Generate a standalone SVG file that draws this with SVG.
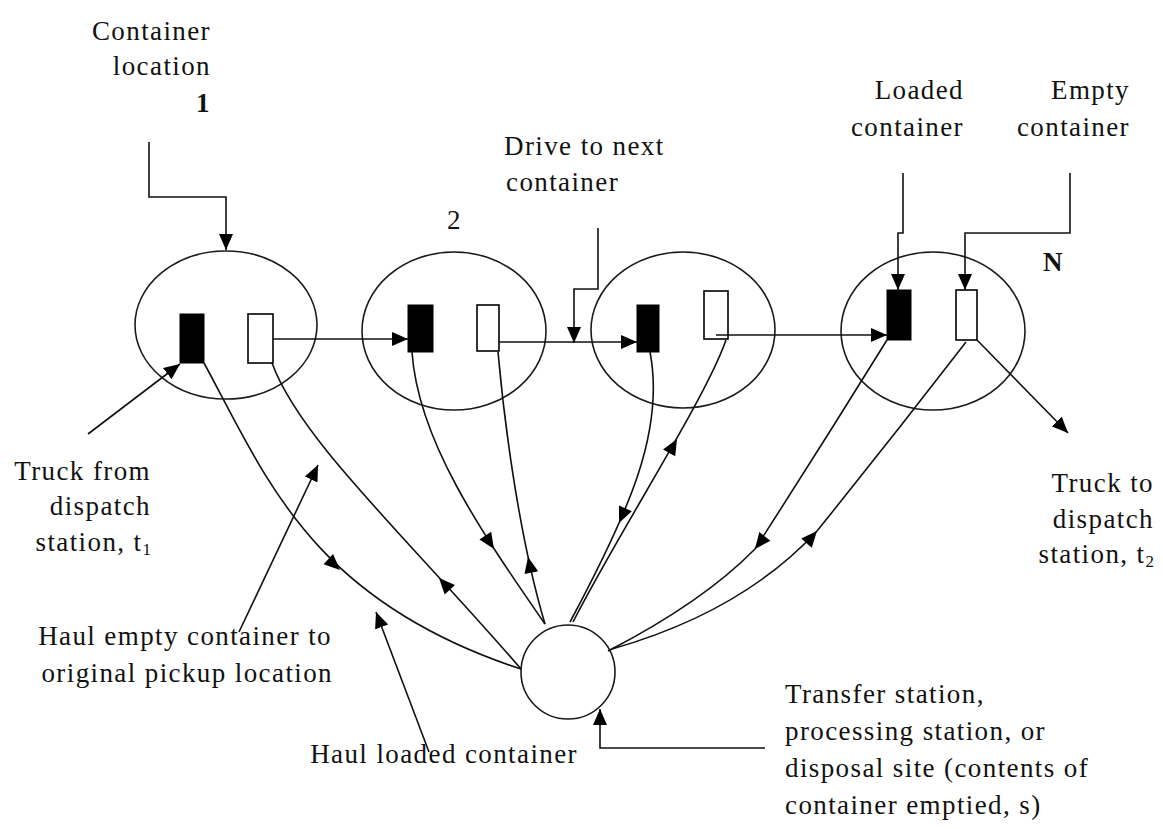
<svg xmlns="http://www.w3.org/2000/svg" xmlns:xlink="http://www.w3.org/1999/xlink" width="1163" height="829" viewBox="0 0 1163 829">
<style>
.node{fill:none;stroke:#1a1a1a;stroke-width:1.6}
.full{fill:#000;stroke:#000;stroke-width:1}
.empty{fill:#fff;stroke:#000;stroke-width:1.6}
.c{fill:none;stroke:#111;stroke-width:1.6}
.a{marker-end:url(#arr)}
.ah{fill:#000}
text{font-family:"Liberation Serif","Times New Roman",serif;font-size:27px;letter-spacing:1.4px;fill:#111}
.r{text-anchor:end}
.b{font-weight:bold}
.sub{font-size:17px;letter-spacing:0}
</style>
<defs>
<marker id="arr" markerUnits="userSpaceOnUse" markerWidth="16" markerHeight="14" viewBox="0 0 16 14" refX="16" refY="7" orient="auto">
<path d="M0,0 L16,7 L0,14 Z" fill="#000"/>
</marker>
<path id="ahead" d="M0,0 L-16,-7 L-16,7 Z"/>
</defs>
<rect width="1163" height="829" fill="#fff"/>

<g id="loc1">
<ellipse class="node" cx="226" cy="325" rx="91" ry="74"/>
<rect class="full" x="180" y="314" width="24" height="49"/>
<rect class="empty" x="248" y="314" width="25" height="49"/>
</g>
<g id="loc2">
<ellipse class="node" cx="454" cy="331" rx="92" ry="79"/>
<rect class="full" x="408" y="305" width="25" height="47"/>
<rect class="empty" x="477" y="305" width="22" height="46"/>
</g>
<g id="loc3">
<ellipse class="node" cx="683" cy="330" rx="92" ry="78"/>
<rect class="full" x="637" y="305" width="22" height="47"/>
<rect class="empty" x="704" y="291" width="24" height="48"/>
</g>
<g id="locN">
<ellipse class="node" cx="933" cy="331" rx="92" ry="79"/>
<rect class="full" x="887" y="290" width="24" height="50"/>
<rect class="empty" x="956" y="290" width="21" height="50"/>
</g>
<g id="transfer">
<circle class="node" cx="568" cy="672" r="47"/>
</g>

<g id="connectors">
<!-- drive between locations -->
<path class="c a" d="M273,339 H408"/>
<path class="c a" d="M499,342 H637"/>
<path class="c a" d="M716,335 H887"/>
<!-- callouts -->
<path class="c a" d="M149,142 V197 H226 V250"/>
<path class="c a" d="M598,228 V289 H574 V343"/>
<path class="c a" d="M903,173 V233 H898 V290"/>
<path class="c a" d="M1070,173 V233 H965 V290"/>
<path class="c a" d="M88,434 L180,364"/>
<path class="c a" d="M977,340 L1068,433"/>
<path class="c a" d="M239,632 L318,465"/>
<path class="c a" d="M429,752 L376,612"/>
<path class="c a" d="M765,748 H600 V709"/>
<!-- haul curves -->
<path class="c" d="M204,363 C265,475 310,600 521,669"/>
<path class="c" d="M272,363 C300,440 410,540 521,669"/>
<path class="c" d="M412,352 C418,440 480,530 545,624"/>
<path class="c" d="M498,352 C505,430 520,540 545,624"/>
<path class="c" d="M650,352 C665,430 630,510 570,622"/>
<path class="c" d="M726,340 C705,400 620,530 573,622"/>
<path class="c" d="M887,340 Q822,445 755,549 Q703,602 608,651"/>
<path class="c" d="M966,342 Q892,438 817,531 Q742,612 612,649"/>
<!-- arrowheads on curves -->
<use xlink:href="#ahead" class="ah" transform="translate(340,570) rotate(43)"/>
<use xlink:href="#ahead" class="ah" transform="translate(439,578) rotate(227.5)"/>
<use xlink:href="#ahead" class="ah" transform="translate(494,549) rotate(57)"/>
<use xlink:href="#ahead" class="ah" transform="translate(528,557) rotate(258)"/>
<use xlink:href="#ahead" class="ah" transform="translate(619,523) rotate(113.6)"/>
<use xlink:href="#ahead" class="ah" transform="translate(677,439) rotate(-60.5)"/>
<use xlink:href="#ahead" class="ah" transform="translate(755,549) rotate(128)"/>
<use xlink:href="#ahead" class="ah" transform="translate(817,531) rotate(-49)"/>
</g>

<g id="labels">
<text class="r" x="211" y="40">Container</text>
<text class="r" x="211" y="75">location</text>
<text class="b" x="196" y="112">1</text>
<text x="447" y="229">2</text>
<text x="504" y="155">Drive to next</text>
<text x="506" y="191">container</text>
<text class="r" x="964" y="99">Loaded</text>
<text class="r" x="964" y="136">container</text>
<text class="r" x="1130" y="99">Empty</text>
<text class="r" x="1130" y="136">container</text>
<text class="b" x="1043" y="271">N</text>
<text class="r" x="151" y="480">Truck from</text>
<text class="r" x="151" y="515">dispatch</text>
<text class="r" x="151" y="551">station, t<tspan class="sub" dy="4">1</tspan></text>
<text class="r" x="1154" y="492">Truck to</text>
<text class="r" x="1154" y="528">dispatch</text>
<text class="r" x="1154" y="563">station, t<tspan class="sub" dy="4">2</tspan></text>
<text class="r" x="332" y="645">Haul empty container to</text>
<text class="r" x="333" y="682">original pickup location</text>
<text class="r" x="578" y="763">Haul loaded container</text>
<text x="785" y="703">Transfer station,</text>
<text x="785" y="740">processing station, or</text>
<text x="785" y="777">disposal site (contents of</text>
<text x="785" y="814">container emptied, s)</text>
</g>
</svg>
